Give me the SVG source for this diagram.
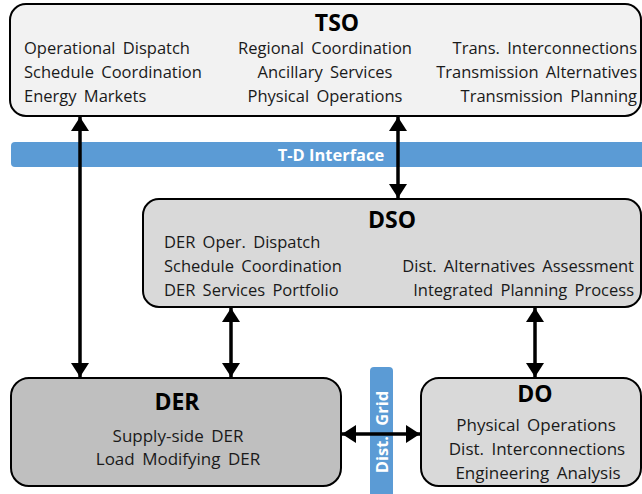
<svg xmlns="http://www.w3.org/2000/svg" width="642" height="494" viewBox="0 0 642 494">
<defs>
<style>
.box{stroke:#000;stroke-width:2}
.t{font-family:"Open Sans","Liberation Sans",sans-serif;font-size:16.5px;word-spacing:3px;fill:#1a1a1a}
.t2{font-family:"Open Sans","Liberation Sans",sans-serif;font-size:17px;word-spacing:3px;fill:#1a1a1a}
.h{font-family:"Open Sans","Liberation Sans",sans-serif;font-size:23px;font-weight:bold;fill:#000}
.band{fill:#5b9bd5}
.bt{font-family:"Open Sans","Liberation Sans",sans-serif;font-size:16.5px;font-weight:bold;fill:#fff}
.c{stroke:#000;stroke-width:3.5;fill:none;marker-start:url(#ah);marker-end:url(#ah)}
</style>
<marker id="ah" markerUnits="userSpaceOnUse" markerWidth="14" markerHeight="18" viewBox="0 0 14 18" refX="14" refY="9" orient="auto-start-reverse">
<path d="M0,0 L14,9 L0,18 Z" fill="#000"/>
</marker>
</defs>
<g id="td-interface">
<rect class="band" x="11" y="142" width="640" height="25" rx="4"/>
<text class="bt" x="331" y="161" text-anchor="middle">T-D Interface</text>
</g>
<g id="dist-grid">
<rect class="band" x="370" y="367" width="23" height="140" rx="4"/>
<text class="bt" transform="translate(388,432) rotate(-90)" text-anchor="middle" word-spacing="6">Dist. Grid</text>
</g>
<g id="tso">
<rect class="box" x="10" y="4" width="631" height="112" rx="16" fill="#f2f2f2"/>
<text class="h" x="337" y="31" text-anchor="middle">TSO</text>
<text class="t" x="24" y="54">Operational Dispatch</text>
<text class="t" x="24" y="78">Schedule Coordination</text>
<text class="t" x="24" y="102">Energy Markets</text>
<text class="t" x="325" y="54" text-anchor="middle">Regional Coordination</text>
<text class="t" x="325" y="78" text-anchor="middle">Ancillary Services</text>
<text class="t" x="325" y="102" text-anchor="middle">Physical Operations</text>
<text class="t" x="637" y="54" text-anchor="end">Trans. Interconnections</text>
<text class="t" x="637" y="78" text-anchor="end">Transmission Alternatives</text>
<text class="t" x="637" y="102" text-anchor="end">Transmission Planning</text>
</g>
<g id="dso">
<rect class="box" x="143" y="199" width="498" height="108" rx="16" fill="#d9d9d9"/>
<text class="h" x="392" y="228" text-anchor="middle">DSO</text>
<text class="t" x="164" y="248">DER Oper. Dispatch</text>
<text class="t" x="164" y="272">Schedule Coordination</text>
<text class="t" x="164" y="296">DER Services Portfolio</text>
<text class="t" x="634" y="272" text-anchor="end" word-spacing="7">Dist. Alternatives Assessment</text>
<text class="t" x="634" y="296" text-anchor="end">Integrated Planning Process</text>
</g>
<g id="der">
<rect class="box" x="11" y="378" width="330" height="108" rx="18" fill="#bfbfbf"/>
<text class="h" x="177" y="410" text-anchor="middle">DER</text>
<text class="t2" x="178" y="442" text-anchor="middle">Supply-side DER</text>
<text class="t2" x="178" y="465" text-anchor="middle">Load Modifying DER</text>
</g>
<g id="do">
<rect class="box" x="421" y="378" width="220" height="108" rx="18" fill="#d9d9d9"/>
<text class="h" x="535" y="402" text-anchor="middle">DO</text>
<text class="t2" x="536" y="431" text-anchor="middle">Physical Operations</text>
<text class="t2" x="537" y="455" text-anchor="middle">Dist. Interconnections</text>
<text class="t2" x="538" y="479" text-anchor="middle">Engineering Analysis</text>
</g>
<g id="connectors">
<line class="c" x1="80" y1="117" x2="80" y2="377"/>
<line class="c" x1="398" y1="117" x2="398" y2="198"/>
<line class="c" x1="231" y1="308" x2="231" y2="377"/>
<line class="c" x1="535" y1="308" x2="535" y2="377"/>
<line class="c" x1="342" y1="434" x2="420" y2="434"/>
</g>
</svg>
